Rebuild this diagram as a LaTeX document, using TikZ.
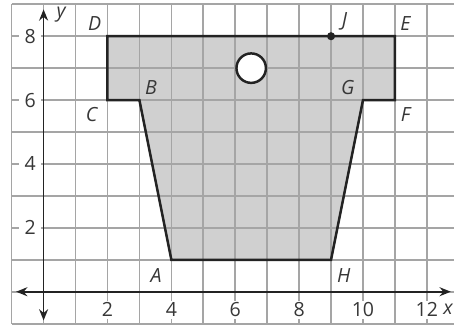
\documentclass[tikz,border=0pt]{standalone}
\usepackage{fontspec}
\setmainfont{Open Sans}
\usetikzlibrary{arrows.meta}
\definecolor{gridgray}{RGB}{165,165,165}
\definecolor{shapefill}{RGB}{208,208,208}
\definecolor{inkdark}{RGB}{35,35,35}
\definecolor{labelgray}{RGB}{55,55,55}
\begin{document}
\begin{tikzpicture}[x=0.5cm,y=0.5cm,
  gridline/.style={draw=gridgray, line width=0.75pt},
  outline/.style={draw=inkdark, line width=1.1pt, line join=miter},
  axisline/.style={draw=inkdark, line width=0.8pt, {Stealth[length=5pt,width=4pt]}-{Stealth[length=5pt,width=4pt]}},
  ticklab/.style={fill=white, inner xsep=2.5pt, inner ysep=1pt, text=labelgray, font=\fontsize{8.7}{10}\selectfont},
  ptlab/.style={text=labelgray, inner sep=0pt, font=\fontsize{8.7}{10}\selectfont\itshape},
  dotpt/.style={circle, fill=inkdark, inner sep=0pt, minimum size=3.6pt}
]
\useasboundingbox (-1.365,-1.084) rectangle (12.85,9.134);
\clip (-1.365,-1.084) rectangle (12.85,9.134);
% vertices
\coordinate (A) at (4,1);
\coordinate (B) at (3,6);
\coordinate (C) at (2,6);
\coordinate (D) at (2,8);
\coordinate (E) at (11,8);
\coordinate (F) at (11,6);
\coordinate (G) at (10,6);
\coordinate (H) at (9,1);
% fill
\fill[shapefill] (A) -- (B) -- (C) -- (D) -- (E) -- (F) -- (G) -- (H) -- cycle;
% grid
\draw[gridline, step=0.5cm] (-1,-1) grid (13,9);
% tick labels (white boxes)
\foreach \v in {2,4,6,8,10,12} \node[ticklab] (xl\v) at (\v,-0.57) {\v};
\foreach \v in {2,4,6,8} \node[ticklab] (yl\v) at (-0.42,\v) {\v};
% axes
\coordinate (xL) at (-0.86,0);
\coordinate (xR) at (12.75,0);
\coordinate (yB) at (0,-0.9);
\coordinate (yT) at (0,8.84);
\draw[axisline] (xL) -- (xR);
\draw[axisline] (yB) -- (yT);
% outline
\draw[outline] (A) -- (B) -- (C) -- (D) -- (E) -- (F) -- (G) -- (H) -- cycle;
% hole
\node[circle, draw=inkdark, line width=1.1pt, fill=white, minimum size=0.5cm-1.1pt, inner sep=0pt] (hole) at (6.5,7) {};
% point J
\node[dotpt] (J) at (9,8) {};
% labels
\node[ptlab] (lD) at (1.6,8.4) {D};
\node[ptlab] (lC) at (1.5,5.54) {C};
\node[ptlab] (lB) at (3.36,6.4) {B};
\node[ptlab] (lJ) at (9.42,8.46) {J};
\node[ptlab] (lE) at (11.33,8.4) {E};
\node[ptlab] (lG) at (9.52,6.4) {G};
\node[ptlab] (lF) at (11.33,5.54) {F};
\node[ptlab] (lA) at (3.52,0.52) {A};
\node[ptlab] (lH) at (9.4,0.52) {H};
\node[ptlab] (ly) at (0.55,8.67) {y};
\node[ptlab] (lx) at (12.66,-0.55) {x};
\end{tikzpicture}
\end{document}
